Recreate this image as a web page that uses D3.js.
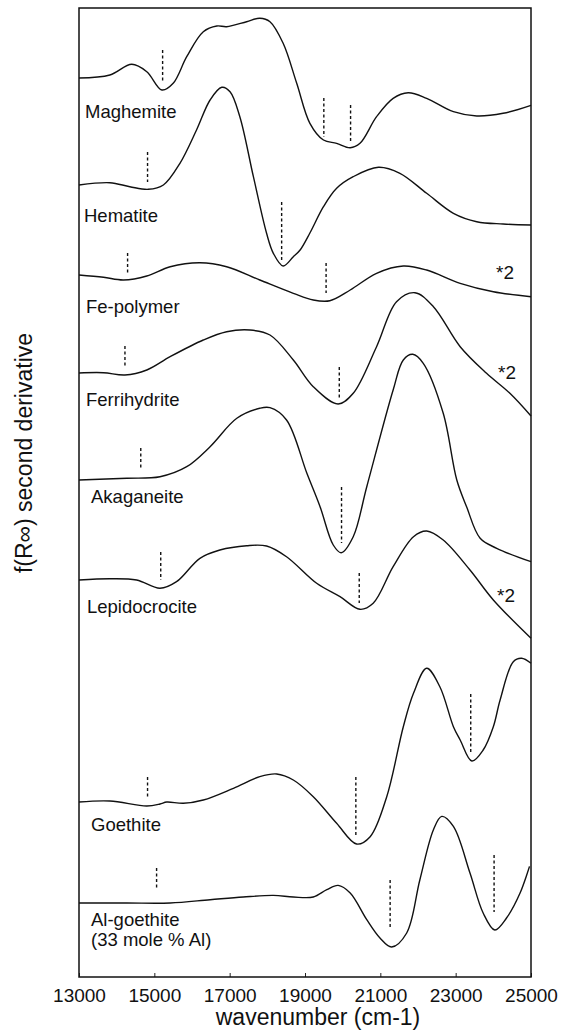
<!DOCTYPE html>
<html>
<head>
<meta charset="utf-8">
<script src="https://cdn.jsdelivr.net/npm/d3@7"></script>
<style>
  body { margin: 0; background: #fff; }
  svg text { font-family: "Liberation Sans", Arial, Helvetica, sans-serif; fill: #111; }
</style>
</head>
<body>
<div id="chart"></div>
<script>
// sample names, top to bottom
const names = ["Maghemite", "Hematite", "Fe-polymer", "Ferrihydrite", "Akaganeite",
               "Lepidocrocite", "Goethite", "Al-goethite"];
// vertical offset of each trace (arbitrary units)
const offsets = [899, 792, 702, 604, 497, 397, 175, 74];
// scale factor notes
const scaled = ["", "", "*2", "*2", "", "*2", "", ""];
const xTicks = [13000, 15000, 17000, 19000, 21000, 23000, 25000];

// second derivative traces: [wavenumber, value]
const maghemite = [[13000,0],[13820,3],[14400,13.7],[14800,6.3],[15200,-12],[15500,-5.3],[15860,21.3],
  [16300,46.3],[16660,52],[16920,51.3],[17450,56.3],[17800,59.7],[18070,56.3],[18420,34.7],[18780,-5.3],
  [19130,-45.3],[19490,-62],[19840,-65.3],[20200,-69.7],[20460,-65.3],[20900,-38.7],[21340,-20.3],
  [21740,-14.7],[22230,-20.3],[22940,-33.7],[23560,-38],[24260,-35.3],[25000,-27.3]];
const hematite = [[13000,0],[13820,2.3],[14350,-1.7],[14840,-4.3],[15240,0],[15680,21.7],[16120,55],
  [16480,85],[16790,97.7],[17010,93.3],[17270,68.3],[17630,8.3],[17980,-48.3],[18160,-68.3],[18420,-81],
  [18690,-71.7],[18870,-65],[19130,-48],[19490,-21.7],[19840,-3.3],[20280,8.3],[20950,17.7],[21520,11.7],
  [22230,-8.3],[22940,-28.3],[23560,-36.7],[24260,-39],[25000,-40]];
const fePolymer = [[13000,0],[13650,-2.3],[14180,-5],[14800,-1],[15420,8.3],[16210,12.3],[16920,8.3],
  [17800,-5],[18690,-18.3],[19220,-25],[19660,-25.7],[20200,-15],[20900,1.7],[21610,9],[22230,5],
  [23120,-8.3],[24000,-16.7],[25000,-21.7]];
const ferrihydrite = [[13000,0],[13650,0.3],[14220,-2],[14800,3],[15420,16.3],[16300,33],[16920,41.3],
  [17540,43],[18070,38],[18690,13],[19220,-13.7],[19880,-31],[20280,-20.3],[20900,26.3],[21430,71.3],
  [21920,80.3],[22410,66.3],[23120,26.3],[23820,-0.3],[24440,-20.3],[25000,-43]];
const akaganeite = [[13000,0],[14270,1.7],[15150,3.3],[15860,13.3],[16480,33.3],[17190,61.7],[17800,71.7],
  [18070,72.3],[18510,60],[19050,6.7],[19400,-26.7],[19750,-65],[19960,-72.7],[20280,-56.7],[20640,-6.7],
  [21340,90],[21610,120],[21860,125.7],[22140,116.7],[22670,66.7],[23030,0],[23290,-26.7],[23650,-58.3],
  [24090,-68.3],[25000,-81.7]];
const lepidocrocite = [[13000,0],[13820,1.3],[14530,0],[15150,-8.3],[15590,-1.7],[16210,21.7],[16740,30],
  [17450,34.3],[17980,34],[18510,23.3],[19310,-3.3],[19930,-16.7],[20460,-29.3],[20810,-23.3],[21340,13.3],
  [21880,43.3],[22230,49],[22670,40],[23380,10],[24000,-20],[25000,-58.3]];
const goethite = [[13000,0],[13820,1],[14800,-4],[15150,-2],[15330,0],[15770,-1.3],[16300,2],[17100,13.7],
  [17800,25.3],[18250,28],[18690,22],[19220,5.3],[19840,-21.3],[20370,-42],[20730,-34.7],[21170,5.3],
  [21610,75.3],[21880,108.7],[22230,133.7],[22580,115.3],[22940,75.3],[23120,62],[23430,41],[23730,52],
  [24000,75.3],[24180,102],[24530,140.3],[24750,143.7],[25000,138.7]];
const alGoethite = [[13000,0],[14270,0],[15420,0],[16480,3.3],[17360,6],[18160,7.6],[18690,6],[19220,6],
  [19580,13.3],[19880,17.6],[20200,10],[20640,-16.7],[20990,-35],[21300,-44],[21700,-30],[22050,23.3],
  [22410,73.3],[22630,86.6],[22940,76.6],[23380,30],[23730,-10],[24040,-27],[24350,-15],[24710,10],
  [24960,36.6]];
const traces = [maghemite, hematite, fePolymer, ferrihydrite, akaganeite, lepidocrocite, goethite, alGoethite];

// dashed band markers: [wavenumber, top, bottom]
const marks = [
  [[15220,28,-4],[19500,-20,-59],[20210,-27,-65]],
  [[14820,33,3],[18380,-17,-75]],
  [[14290,22,2],[19560,12,-18]],
  [[14220,27,6],[19910,6,-25]],
  [[14640,32,10],[19970,-7,-63]],
  [[15170,28,0],[20440,7,-23]],
  [[14820,25,3],[20350,25,-33],[23400,108,50]],
  [[15060,35,13],[21260,23,-24],[24020,48,-9]]
];

// label layout (pixels)
const labelPos = [[85,118],[84,222],[86,313],[86,406],[91,503],[87,613],[91,831],[91,926]];
const notePos = [null, null, [496,279], [498,379], null, [497,602], null, null];

const W = 566, H = 1030;
const margin = { top: 8, right: 35, bottom: 53, left: 79 };
const width = W - margin.left - margin.right;
const height = H - margin.top - margin.bottom;

const svg = d3.select("#chart").append("svg")
  .attr("width", W).attr("height", H);
const g = svg.append("g").attr("transform", `translate(${margin.left},${margin.top})`);

const x = d3.scaleLinear().domain([13000, 25000]).range([0, width]);
const y = d3.scaleLinear().domain([0, height]).range([height, 0]);

// x axis
const xAxis = g.append("g")
  .attr("transform", `translate(0,${height})`)
  .call(d3.axisBottom(x).tickValues(xTicks).tickFormat(d3.format("d"))
    .tickSizeInner(-4).tickSizeOuter(0).tickPadding(11.5));
xAxis.select(".domain").remove();
xAxis.selectAll("line").attr("stroke", "#222").attr("stroke-width", 1);
xAxis.selectAll("text").attr("font-size", 19).attr("fill", "#111")
  .style("font-family", "'Liberation Sans', Arial, sans-serif");

// frame
g.append("rect")
  .attr("width", width).attr("height", height)
  .attr("fill", "none").attr("stroke", "#111").attr("stroke-width", 1.5);

const line = d3.line().curve(d3.curveCatmullRom.alpha(0.5));

traces.forEach((tr, i) => {
  const off = offsets[i];
  g.append("path")
    .attr("d", line(tr.map(d => [x(d[0]), y(d[1] + off)])))
    .attr("fill", "none").attr("stroke", "#111").attr("stroke-width", 1.4);

  g.selectAll(null).data(marks[i]).join("line")
    .attr("x1", d => x(d[0])).attr("x2", d => x(d[0]))
    .attr("y1", d => y(d[1] + off)).attr("y2", d => y(d[2] + off))
    .attr("stroke", "#111").attr("stroke-width", 1.4)
    .attr("stroke-dasharray", "3,2.5");
});

// sample labels
names.forEach((n, i) => {
  const t = svg.append("text")
    .attr("x", labelPos[i][0]).attr("y", labelPos[i][1])
    .attr("font-size", 18.5);
  if (n === "Al-goethite") {
    t.append("tspan").attr("x", labelPos[i][0]).text("Al-goethite");
    t.append("tspan").attr("x", labelPos[i][0]).attr("dy", 20).text("(33 mole % Al)");
  } else {
    t.text(n);
  }
  if (notePos[i]) {
    svg.append("text").attr("x", notePos[i][0]).attr("y", notePos[i][1])
      .attr("font-size", 19).text(scaled[i]);
  }
});

// axis titles
svg.append("text")
  .attr("x", 318).attr("y", 1025)
  .attr("text-anchor", "middle").attr("font-size", 23)
  .text("wavenumber (cm-1)");

svg.append("text")
  .attr("transform", "translate(32,453) rotate(-90)")
  .attr("text-anchor", "middle").attr("font-size", 23)
  .text("f(R\u221E) second derivative");
</script>
</body>
</html>
